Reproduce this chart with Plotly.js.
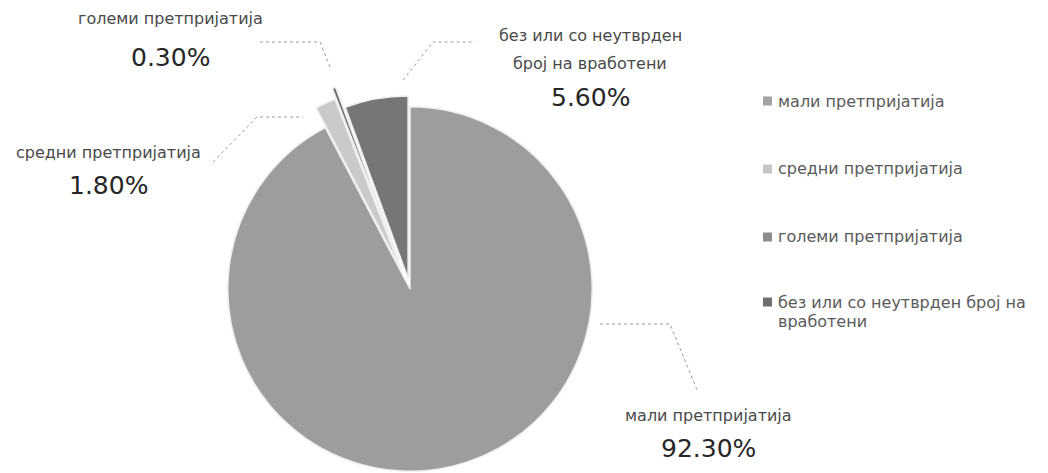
<!DOCTYPE html>
<html>
<head>
<meta charset="utf-8">
<script src="https://cdn.plot.ly/plotly-3.0.1.min.js"></script>
<style>
  html, body { margin: 0; padding: 0; background: #ffffff; }
  #frame { width: 1048px; height: 473px; overflow: hidden; position: relative; }
  #chart { width: 1048px; height: 578px; }
</style>
</head>
<body>
<div id="frame"><div id="chart"></div></div>
<script>
// Enterprises by size (share of total)
const categories = ['мали претпријатија', 'средни претпријатија', 'големи претпријатија', 'без или со неутврден број на вработени'];
const shares = [92.3, 1.8, 0.3, 5.6];
const sliceLabelLines = [
  ['мали претпријатија'],
  ['средни претпријатија'],
  ['големи претпријатија'],
  ['без или со неутврден', 'број на вработени']
];
const legendLines = [
  ['мали претпријатија'],
  ['средни претпријатија'],
  ['големи претпријатија'],
  ['без или со неутврден број на', 'вработени']
];
const sliceColors = ['#9d9d9d', '#cacaca', '#6c6c6c', '#767676'];
const swatchColors = ['#a3a3a3', '#c6c6c6', '#8c8c8c', '#6e6e6e'];
const pulls = [0, 0.12, 0.18, 0.06];

const W = 1048, H = 578;
const fx = x => x / W;
const fy = y => 1 - y / H;

// label anchor points (px) for each slice: [x, firstLineY, percentY]
const labelPos = [
  [708, 415, 448],
  [108, 152, 185],
  [170, 19, 58],
  [590, 35, 97]
];
// leader line waypoints (px)
const leaders = [
  [[600, 324], [670, 324], [697, 390]],
  [[213, 162], [257, 117], [303, 117]],
  [[260, 42], [320, 42], [330, 67]],
  [[403, 80], [433, 42], [475, 42]]
];

const annotations = [];
const shapes = [];

categories.forEach((cat, i) => {
  const [lx, ly, pyPct] = labelPos[i];
  sliceLabelLines[i].forEach((line, k) => {
    annotations.push({
      xref: 'paper', yref: 'paper', x: fx(lx), y: fy(ly + k * 28),
      xanchor: 'center', yanchor: 'middle', showarrow: false,
      text: line, font: {family: 'DejaVu Sans', size: 16, color: '#4a4a4a'}
    });
  });
  annotations.push({
    xref: 'paper', yref: 'paper', x: fx(lx), y: fy(pyPct),
    xanchor: 'center', yanchor: 'middle', showarrow: false,
    text: shares[i].toFixed(2) + '%',
    font: {family: 'DejaVu Sans', size: 25, color: '#262626'}
  });
  const pts = leaders[i];
  const path = pts.map((p, k) => (k === 0 ? 'M' : 'L') + fx(p[0]) + ',' + fy(p[1])).join(' ');
  shapes.push({
    type: 'path', xref: 'paper', yref: 'paper', path: path,
    line: {color: '#9a9a9a', width: 1, dash: 'dot'}
  });
});

// legend drawn on the right
const legendX = 763, legendTextX = 776;
const legendY = [101, 169, 237, 302];
categories.forEach((cat, i) => {
  const y = legendY[i];
  shapes.push({
    type: 'rect', xref: 'paper', yref: 'paper',
    x0: fx(legendX), x1: fx(legendX + 9), y0: fy(y - 4.5), y1: fy(y + 4.5),
    fillcolor: swatchColors[i], line: {width: 0}
  });
  legendLines[i].forEach((line, k) => {
    annotations.push({
      xref: 'paper', yref: 'paper', x: fx(legendTextX), y: fy(y + k * 19),
      xanchor: 'left', yanchor: 'middle', showarrow: false,
      text: line, font: {family: 'DejaVu Sans', size: 16, color: '#5a5a5a'}
    });
  });
});

const trace = {
  type: 'pie',
  labels: categories,
  values: shares,
  sort: false,
  direction: 'clockwise',
  rotation: 0,
  pull: pulls,
  textinfo: 'none',
  hoverinfo: 'label+percent',
  marker: {colors: sliceColors, line: {color: '#eeeeee', width: 1.5}},
  domain: {x: [fx(195), fx(625)], y: [0, 1]}
};

const layout = {
  width: W, height: H,
  margin: {l: 0, r: 0, t: 0, b: 0},
  paper_bgcolor: '#ffffff',
  showlegend: false,
  annotations: annotations,
  shapes: shapes
};

Plotly.newPlot('chart', [trace], layout, {displayModeBar: false, staticPlot: true});
</script>
</body>
</html>
